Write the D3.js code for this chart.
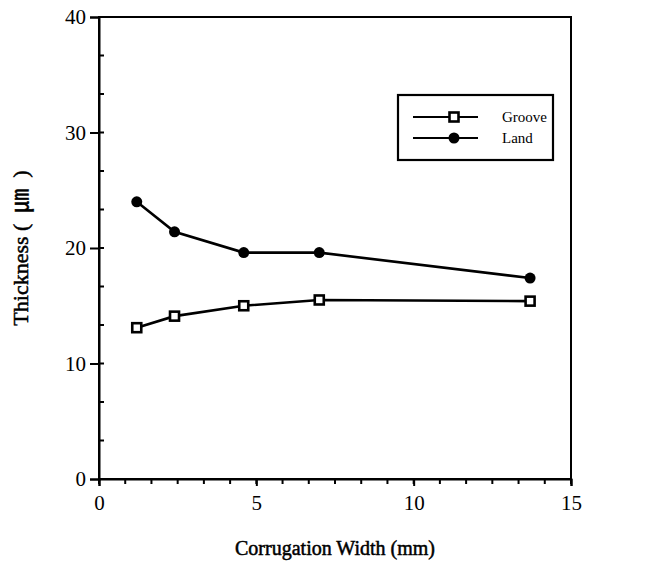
<!DOCTYPE html>
<html>
<head>
<meta charset="utf-8">
<script src="https://cdn.jsdelivr.net/npm/d3@7"></script>
<style>
  body { margin: 0; background: #fff; }
  text { font-family: "Liberation Serif", "DejaVu Serif", serif; fill: #000; }
</style>
</head>
<body>
<div id="chart"></div>
<script>
// Data
const widths = [1.2, 2.4, 4.6, 7.0, 13.7];
const groove = [13.1, 14.1, 15.0, 15.5, 15.4];
const land = [24.0, 21.4, 19.6, 19.6, 17.4];
const seriesNames = ["Groove", "Land"];
const xTicks = [0, 5, 10, 15];
const yTicks = [0, 10, 20, 30, 40];

const width = 647, height = 561;
const margin = { left: 99, right: 76, top: 17, bottom: 82 };

const svg = d3.select("#chart").append("svg")
  .attr("width", width)
  .attr("height", height);

const x = d3.scaleLinear().domain([0, 15]).range([margin.left, width - margin.right]);
const y = d3.scaleLinear().domain([0, 40]).range([height - margin.bottom, margin.top]);

// frame
svg.append("rect")
  .attr("x", x(0)).attr("y", y(40))
  .attr("width", x(15) - x(0)).attr("height", y(0) - y(40))
  .attr("fill", "none").attr("stroke", "#000").attr("stroke-width", 2);

// minor ticks
const xMinor = d3.range(0, 15.01, 5 / 6);
svg.append("g").selectAll("line").data(xMinor).enter().append("line")
  .attr("x1", d => x(d)).attr("x2", d => x(d))
  .attr("y1", y(0)).attr("y2", y(0) + 5)
  .attr("stroke", "#000").attr("stroke-width", 2);

const yMinor = d3.range(0, 40.01, 10 / 3);
svg.append("g").selectAll("line").data(yMinor).enter().append("line")
  .attr("x1", x(0)).attr("x2", x(0) + 5)
  .attr("y1", d => y(d)).attr("y2", d => y(d))
  .attr("stroke", "#000").attr("stroke-width", 2);

// axes
const xAxis = svg.append("g")
  .attr("transform", "translate(0," + y(0) + ")")
  .call(d3.axisBottom(x).tickValues(xTicks).tickSize(7).tickPadding(6));
const yAxis = svg.append("g")
  .attr("transform", "translate(" + x(0) + ",0)")
  .call(d3.axisLeft(y).tickValues(yTicks).tickSize(9).tickPadding(4));

[xAxis, yAxis].forEach(a => {
  a.attr("font-size", null).attr("font-family", null);
  a.select(".domain").attr("stroke-width", 2);
  a.selectAll(".tick line").attr("stroke-width", 2);
  a.selectAll(".tick text").style("font-size", "21px");
});
xAxis.selectAll(".tick text").attr("dy", "0.85em");

// lines
const line = d3.line()
  .x((d, i) => x(widths[i]))
  .y(d => y(d));

svg.append("path").datum(land)
  .attr("d", line).attr("fill", "none")
  .attr("stroke", "#000").attr("stroke-width", 2.6);
svg.append("path").datum(groove)
  .attr("d", line).attr("fill", "none")
  .attr("stroke", "#000").attr("stroke-width", 2.6);

function drawSquare(g, cx, cy) {
  g.append("rect")
    .attr("x", cx - 4.5).attr("y", cy - 4.5)
    .attr("width", 9).attr("height", 9)
    .attr("fill", "#fff").attr("stroke", "#000").attr("stroke-width", 2.6);
}
function drawDot(g, cx, cy) {
  g.append("circle").attr("cx", cx).attr("cy", cy).attr("r", 5.5).attr("fill", "#000");
}

const marks = svg.append("g");
land.forEach((v, i) => drawDot(marks, x(widths[i]), y(v)));
groove.forEach((v, i) => drawSquare(marks, x(widths[i]), y(v)));

// legend
const legend = svg.append("g").attr("transform", "translate(398,95)");
legend.append("rect")
  .attr("width", 155).attr("height", 65)
  .attr("fill", "#fff").attr("stroke", "#000").attr("stroke-width", 2.2);
seriesNames.forEach((name, i) => {
  const ly = 22 + i * 21;
  legend.append("line")
    .attr("x1", 15).attr("x2", 80).attr("y1", ly).attr("y2", ly)
    .attr("stroke", "#000").attr("stroke-width", 2);
  if (i === 0) drawSquare(legend, 56, ly); else drawDot(legend, 56, ly);
  legend.append("text")
    .attr("x", 104).attr("y", ly + 5)
    .style("font-size", "15px")
    .text(name);
});

// axis titles
svg.append("text")
  .attr("x", (x(0) + x(15)) / 2).attr("y", 555)
  .attr("text-anchor", "middle")
  .style("font-size", "20px")
  .attr("stroke", "#000").attr("stroke-width", 0.5)
  .text("Corrugation Width (mm)");

const yTitle = svg.append("text")
  .attr("transform", "translate(28," + (y(20)) + ") rotate(-90)")
  .attr("text-anchor", "middle")
  .style("font-size", "22px")
  .style("white-space", "pre")
  .attr("stroke", "#000").attr("stroke-width", 0.5);
yTitle.append("tspan").text("Thickness (  ");
yTitle.append("tspan").style("font-family", "Noto Sans CJK JP").style("font-size", "24px").text("㎛");
yTitle.append("tspan").text("  )");
</script>
</body>
</html>
